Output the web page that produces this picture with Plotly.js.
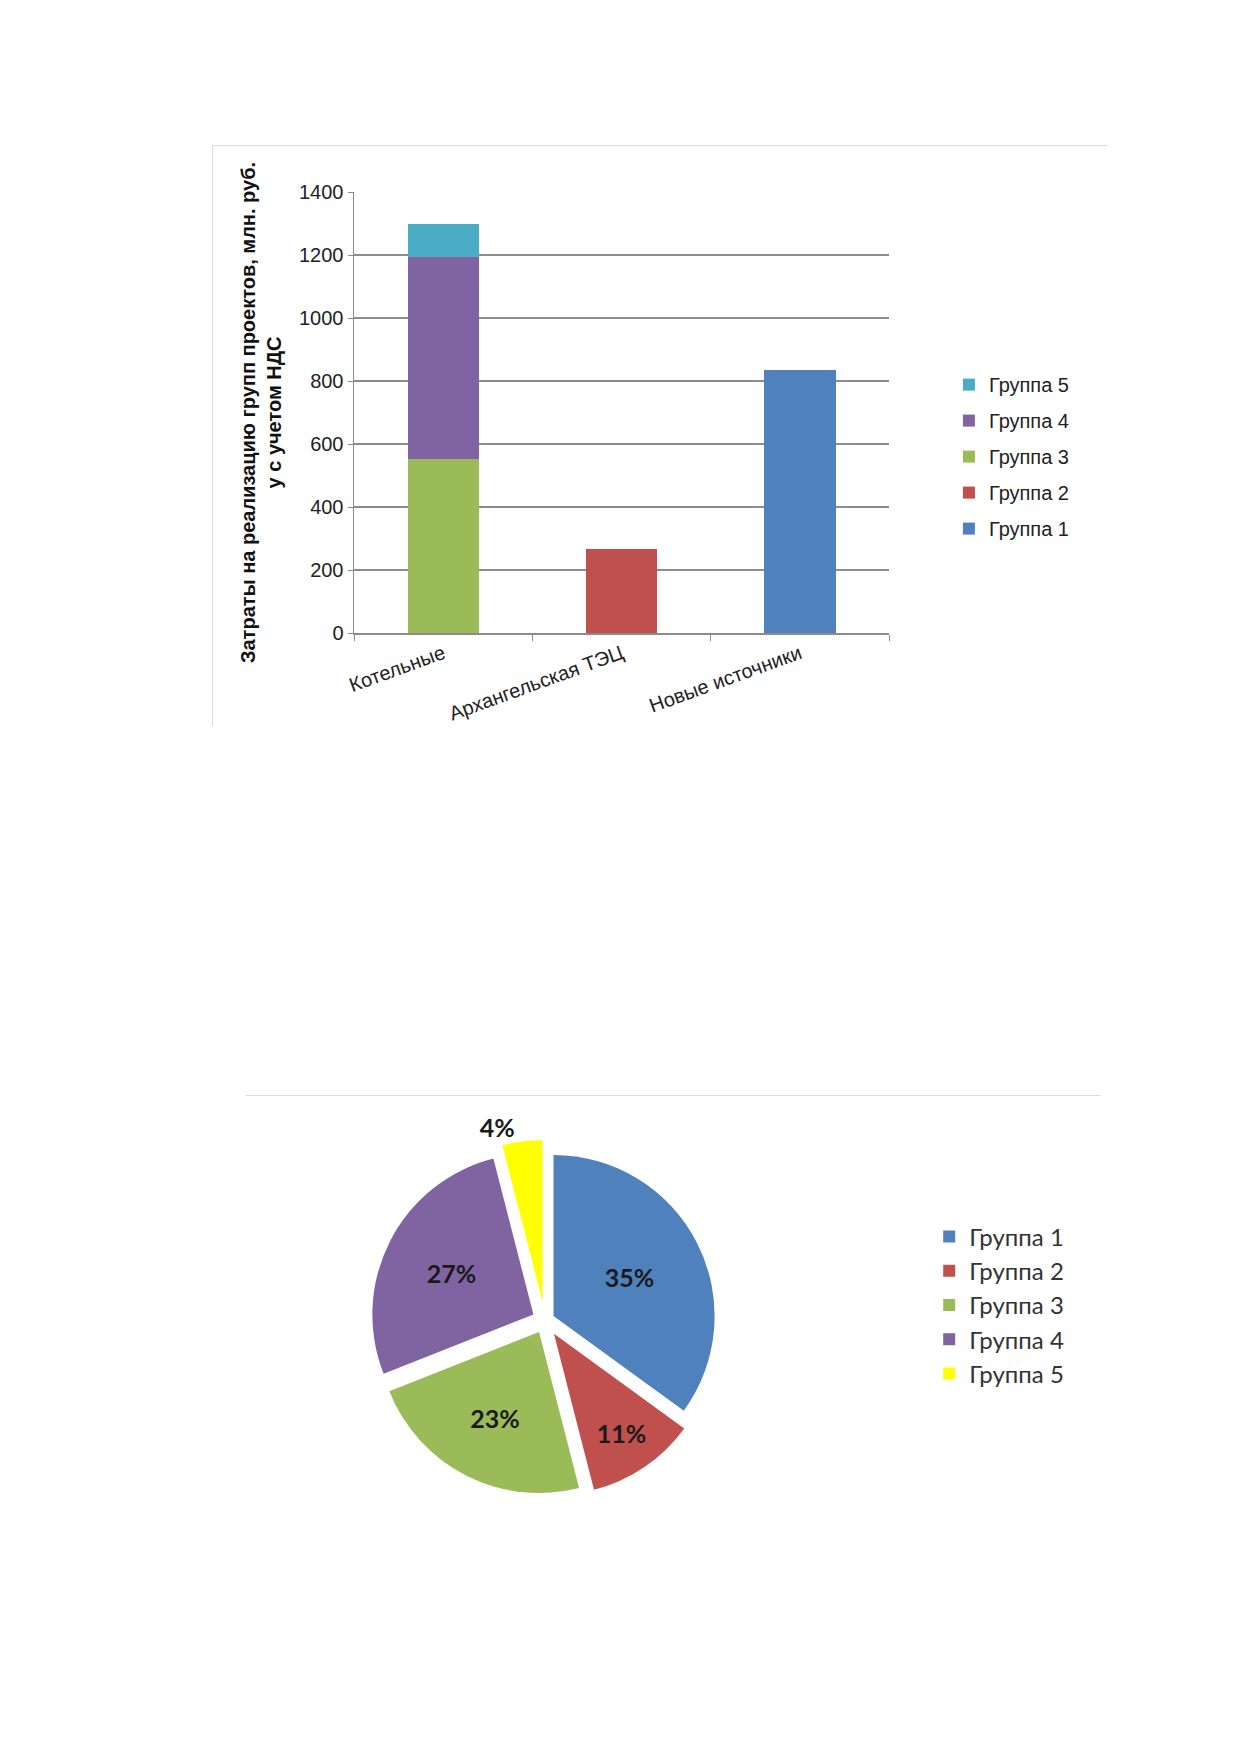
<!DOCTYPE html>
<html>
<head>
<meta charset="utf-8">
<script src="https://cdn.plot.ly/plotly-3.0.1.min.js"></script>
<style>
  body { margin: 0; background: #fff; width: 1240px; height: 1754px; position: relative; }
  #bar-chart { position: absolute; left: 212px; top: 145px; width: 894px; height: 580px;
               border-left: 1px solid #d9d9d9; border-top: 1px solid #d9d9d9; }
  #pie-chart { position: absolute; left: 246px; top: 1095px; width: 854px; height: 440px;
               border-top: 1px solid #d9d9d9; }
</style>
</head>
<body>
<div id="bar-chart"></div>
<div id="pie-chart"></div>
<script>
// categories and values
const sources = ['Котельные', 'Архангельская ТЭЦ', 'Новые источники']
const groupNames = ['Группа 1', 'Группа 2', 'Группа 3', 'Группа 4', 'Группа 5']
const group1 = [null, null, 834]
const group2 = [null, 268, null]
const group3 = [553, null, null]
const group4 = [640, null, null]
const group5 = [106, null, null]
const yTicks = [0, 200, 400, 600, 800, 1000, 1200, 1400]

// pie shares, %
const pieShares = [35, 11, 23, 27, 4]

const barColors = ['#4F81BD', '#C0504D', '#9BBB59', '#8064A2', '#4BACC6']
const pieColors = ['#4F81BD', '#C0504D', '#9BBB59', '#8064A2', '#FFFF00']

const axisFont = {family: 'Liberation Sans, Arial, sans-serif', size: 20, color: '#222'}

// each trace in its own legend group so tracegroupgap spreads the entries;
// legendrank puts Группа 5 on top like the original
const barData = [group1, group2, group3, group4, group5].map((vals, i) => ({
  x: sources,
  y: vals,
  type: 'bar',
  name: groupNames[i],
  legendgroup: 'g' + i,
  legendrank: 10 - i,
  marker: {color: barColors[i]},
  hoverinfo: 'none'
}))

const barLayout = {
  barmode: 'stack',
  bargap: 0.6,
  width: 894,
  height: 580,
  margin: {l: 141, r: 218, t: 46, b: 93},
  paper_bgcolor: 'rgba(0,0,0,0)',
  plot_bgcolor: '#fff',
  showlegend: true,
  legend: {
    traceorder: 'grouped',
    tracegroupgap: 7,
    x: 1.112, y: 0.4, xanchor: 'left', yanchor: 'middle',
    font: {family: 'Liberation Sans, Arial, sans-serif', size: 20, color: '#222'}
  },
  xaxis: {
    type: 'category',
    tickangle: -20,
    tickfont: axisFont,
    tickson: 'boundaries',
    ticks: 'outside',
    ticklen: 6,
    tickcolor: '#8c8c8c',
    showgrid: false,
    showline: true,
    linecolor: '#8c8c8c',
    linewidth: 1.5
  },
  yaxis: {
    range: [0, 1400],
    tickvals: yTicks,
    tickfont: axisFont,
    ticks: 'outside',
    ticklen: 5,
    tickcolor: '#8c8c8c',
    showgrid: true,
    gridcolor: '#8c8c8c',
    gridwidth: 1.2,
    showline: true,
    linecolor: '#8c8c8c',
    linewidth: 1.5,
    zeroline: false,
    title: {
      text: 'Затраты на реализацию групп проектов, млн. руб.<br>у с учетом НДС',
      font: {family: 'Liberation Sans, Arial, sans-serif', size: 20, color: '#111', weight: 'bold'},
      standoff: 12
    }
  }
}

const pieData = [{
  type: 'pie',
  values: pieShares,
  labels: groupNames,
  sort: false,
  direction: 'clockwise',
  rotation: 0,
  pull: [0.06, 0.1, 0.08, 0.08, 0.12],
  marker: {colors: pieColors, line: {width: 0}},
  textinfo: 'percent',
  texttemplate: '%{percent:.0%}',
  textposition: ['inside', 'inside', 'inside', 'inside', 'outside'],
  insidetextorientation: 'horizontal',
  textfont: {family: 'Lato, Liberation Sans, sans-serif', size: 25, color: '#1a1a1a', weight: 'bold'},
  domain: {x: [0.08, 0.62], y: [0.08, 0.90]},
  hoverinfo: 'none'
}]

const pieLayout = {
  width: 854,
  height: 440,
  margin: {l: 0, r: 0, t: 0, b: 0},
  paper_bgcolor: 'rgba(0,0,0,0)',
  showlegend: true,
  legend: {
    x: 0.8, y: 0.525, yanchor: 'middle',
    font: {family: 'Lato, Liberation Sans, sans-serif', size: 24, color: '#333'}
  }
}

Plotly.newPlot('bar-chart', barData, barLayout, {staticPlot: true})
Plotly.newPlot('pie-chart', pieData, pieLayout, {staticPlot: true})
</script>
</body>
</html>
